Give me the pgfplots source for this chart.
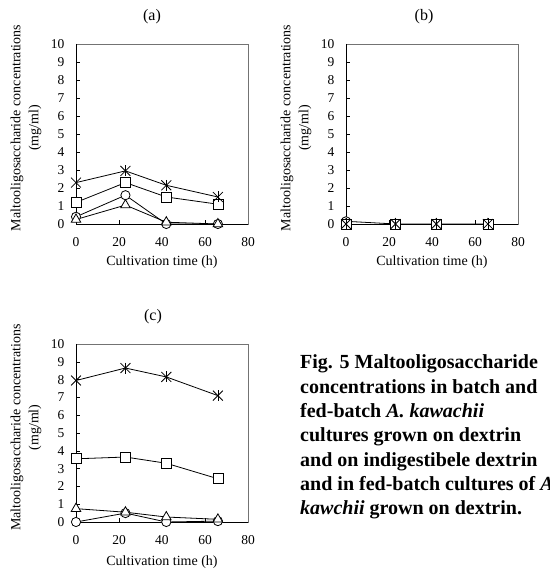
\documentclass[border=0pt]{standalone}
\usepackage{fontspec}
\setmainfont{Liberation Serif}
\usepackage{pgfplots}
\usepackage{pgfplotstable}
\pgfplotsset{compat=1.18}

% Maltooligosaccharide concentrations (mg/ml) against cultivation time (h)
\pgfplotstableread{
t  circ tri  sq   star
0  0.40 0.25 1.20 2.30
23 1.60 1.05 2.30 2.95
42 0.00 0.10 1.50 2.15
66 0.00 0.00 1.10 1.50
}\dataA
\pgfplotstableread{
t  circ tri  sq   star
0  0.15 0.00 0.00 0.00
23 0.00 0.00 0.00 0.00
42 0.00 0.00 0.00 0.00
66 0.00 0.00 0.00 0.00
}\dataB
\pgfplotstableread{
t  circ tri  sq   star
0  0.00 0.75 3.55 7.95
23 0.50 0.55 3.65 8.65
42 0.00 0.28 3.30 8.15
66 0.05 0.15 2.43 7.10
}\dataC

\pgfplotsset{
  panel/.style={
    scale only axis, width=172pt, height=180pt,
    anchor=south west,
    xmin=0, xmax=80, ymin=0, ymax=10,
    xtick={0,20,40,60,80}, ytick={0,1,...,10},
    clip=false,
    axis line style={black!55, line width=0.6pt},
    xtick pos=lower, ytick pos=left,
    tick align=inside,
    major tick length=4pt,
    tick style={black, line width=0.5pt},
    /pgf/number format/assume math mode=true,
    tick label style={font=\fontsize{13.5}{15}\selectfont},
    yticklabel style={xshift=-8pt},
    xticklabel style={yshift=-10pt},
  },
  ser/.style={black, line width=0.8pt,
    mark options={solid, fill=white, draw=black, line width=0.8pt}},
}

\newcommand{\drawseries}[1]{%
  \draw[black, line width=0.7pt] (rel axis cs:0,1) -- (rel axis cs:0,0) -- (rel axis cs:1,0);
  \addplot[ser, mark=*, mark size=4.6pt] table[x=t, y=circ] {#1};
  \addplot[ser, mark=triangle*, mark size=5.5pt] table[x=t, y=tri] {#1};
  \addplot[ser, mark=square*, mark size=5pt] table[x=t, y=sq] {#1};
  \addplot[ser, mark=x, mark size=7pt] table[x=t, y=star] {#1};
  \addplot[ser, only marks, mark=|, mark size=5.5pt] table[x=t, y=star] {#1};
}

\newcommand{\ylab}{Maltooligosaccharide concentrations\\(mg/ml)}

\begin{document}
\begin{tikzpicture}[x=1pt, y=1pt]
\path[use as bounding box] (0,0) rectangle (549,573);

% (a)
\begin{axis}[panel, at={(76pt,349pt)}]
  \drawseries{\dataA}
\end{axis}
\node[font=\fontsize{16}{18}\selectfont] at (152,556) {(a)};
\node[font=\fontsize{14}{16}\selectfont] at (162,311) {Cultivation time (h)};
\node[rotate=90, align=center, font=\fontsize{14}{18}\selectfont] at (26,445) {\ylab};

% (b)
\begin{axis}[panel, at={(346pt,349pt)}]
  \drawseries{\dataB}
\end{axis}
\node[font=\fontsize{16}{18}\selectfont] at (424,556) {(b)};
\node[font=\fontsize{14}{16}\selectfont] at (432,311) {Cultivation time (h)};
\node[rotate=90, align=center, font=\fontsize{14}{18}\selectfont] at (296,445) {\ylab};

% (c)
\begin{axis}[panel, height=178pt, at={(76pt,51pt)}]
  \drawseries{\dataC}
\end{axis}
\node[font=\fontsize{16}{18}\selectfont] at (153,256) {(c)};
\node[font=\fontsize{14}{16}\selectfont] at (162,11) {Cultivation time (h)};
\node[rotate=90, align=center, font=\fontsize{14}{18}\selectfont] at (26,145.5) {\ylab};

% caption, running past the right edge of the page
\begin{scope}[every node/.style={anchor=base west, inner sep=0pt,
    font=\fontsize{20}{24}\selectfont\bfseries}]
  \node at (300,204)   {Fig. 5 Maltooligosaccharide};
  \node at (300,179.7) {concentrations in batch and};
  \node at (300,155.4) {fed-batch \textit{A. kawachii}};
  \node at (300,131.1) {cultures grown on dextrin};
  \node at (300,106.8) {and on indigestibele dextrin};
  \node at (300,82.5)  {and in fed-batch cultures of \textit{A.}};
  \node at (300,58.2)  {\textit{kawchii} grown on dextrin.};
\end{scope}
\end{tikzpicture}
\end{document}
